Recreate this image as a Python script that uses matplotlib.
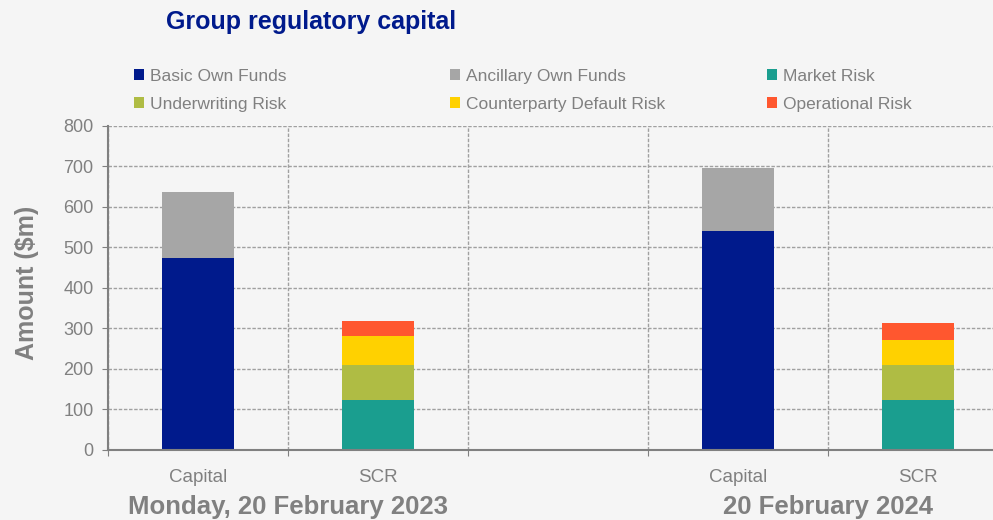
import matplotlib.pyplot as plt
import numpy as np

categories = ['Capital', 'SCR', '', 'Capital', 'SCR']
groups = ['Monday, 20 February 2023', '20 February 2024']
series_names = ['Basic Own Funds', 'Ancillary Own Funds', 'Market Risk',
                'Underwriting Risk', 'Counterparty Default Risk', 'Operational Risk']
basic_own_funds = [474, 0, 0, 540, 0]
ancillary_own_funds = [162, 0, 0, 156, 0]
market_risk = [0, 123, 0, 0, 122]
underwriting_risk = [0, 86, 0, 0, 87]
counterparty_risk = [0, 72, 0, 0, 62]
operational_risk = [0, 37, 0, 0, 43]

colors = ['#001a8c', '#a6a6a6', '#1a9e8f', '#afbc44', '#ffd100', '#ff572f']
grey = '#808080'
bg = '#f5f5f5'

plt.rcParams['font.family'] = ['Liberation Sans', 'DejaVu Sans']

fig = plt.figure(figsize=(9.93, 5.2), dpi=100, facecolor=bg)
ax = fig.add_axes([108 / 993, 1 - 449.5 / 520, 885 / 993, 323.5 / 520])
ax.set_facecolor(bg)

x = np.arange(len(categories))
all_series = [basic_own_funds, ancillary_own_funds, market_risk,
              underwriting_risk, counterparty_risk, operational_risk]
bottom = np.zeros(len(categories))
handles = []
for name, vals, c in zip(series_names, all_series, colors):
    vals = np.array(vals, dtype=float)
    b = ax.bar(x, vals, 0.4, bottom=bottom, color=c, label=name, zorder=3)
    handles.append(b)
    bottom += vals

ax.set_xlim(-0.5, 4.4167)
ax.set_ylim(0, 800)
ax.set_yticks(np.arange(0, 801, 100))
ax.set_xticks(np.arange(-0.5, 4, 1))
ax.set_xticklabels([])
ax.set_xticks(x, minor=True)
ax.set_xticklabels(categories, minor=True, fontsize=13.5, color=grey)
ax.tick_params(axis='x', which='minor', length=0, pad=14)
ax.tick_params(axis='x', which='major', length=4, color=grey, direction='out')
ax.tick_params(axis='y', length=4.3, pad=6, color=grey, labelcolor=grey, labelsize=13)

ax.grid(True, which='major', linestyle=(0, (2.5, 1.2)), color='#a0a0a0', linewidth=1, zorder=0)
for s in ['top', 'right']:
    ax.spines[s].set_visible(False)
for s in ['left', 'bottom']:
    ax.spines[s].set_color(grey)
    ax.spines[s].set_linewidth(1.5)
    ax.spines[s].set_zorder(4)

ax.set_ylabel('Amount ($m)', fontsize=18, fontweight='bold', color=grey)
ax.yaxis.set_label_coords(-0.078, 0.515)

for gx, gname in zip([0.5, 3.5], groups):
    ax.text(gx, -0.178, gname, transform=ax.get_xaxis_transform(), ha='center', va='center',
            fontsize=18.5, fontweight='bold', color=grey)

fig.text(311 / 993, 1 - 22 / 520, 'Group regulatory capital', ha='center', va='center',
         fontsize=18, fontweight='bold', color='#001a8c')

# legend: three columns placed by hand
col_x = [134, 450, 767]
cols = [[0, 3], [1, 4], [2, 5]]
for cx, idx in zip(col_x, cols):
    leg = fig.legend([handles[i] for i in idx], [series_names[i] for i in idx],
                     loc='upper left', bbox_to_anchor=(cx / 993, 1 - 69 / 520),
                     frameon=False, borderpad=0, borderaxespad=0, fontsize=12.5,
                     handlelength=0.6, handleheight=0.6, handletextpad=0.35,
                     labelspacing=0.75, labelcolor=grey)

fig.savefig('out.png', dpi=100, facecolor=bg)
